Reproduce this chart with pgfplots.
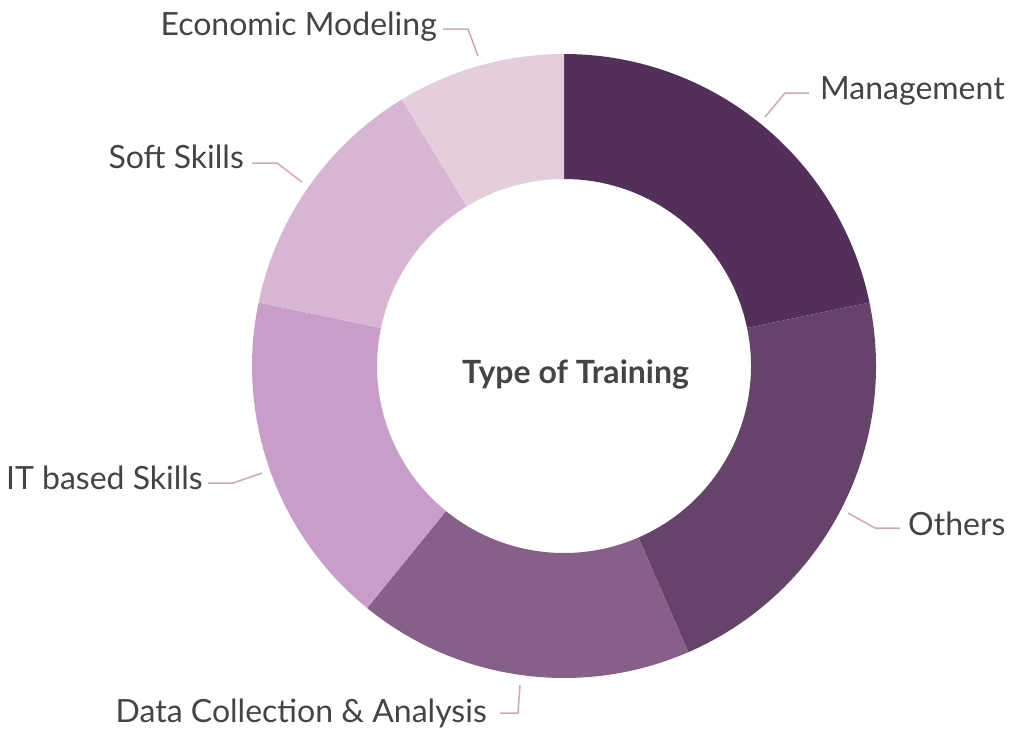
\documentclass[border=0pt]{standalone}
\usepackage{pgfplots}
\pgfplotsset{compat=1.18}
\usepackage{pgfplotstable}
\usepackage{fontspec}
\setmainfont{Lato}

\definecolor{slice0}{HTML}{52305A}
\definecolor{slice1}{HTML}{66436A}
\definecolor{slice2}{HTML}{876089}
\definecolor{slice3}{HTML}{C99DC9}
\definecolor{slice4}{HTML}{D8B6D3}
\definecolor{slice5}{HTML}{E5CEDC}
\definecolor{leader}{HTML}{D4A5B8}
\definecolor{txt}{HTML}{444444}

% order: clockwise from 12 o'clock
\pgfplotstableread[col sep=comma]{
label,value
Management,25
Others,25
DataCollection,20
ITbased,20
SoftSkills,15
EconomicModeling,10
}\trainingdata

\begin{document}
\begin{tikzpicture}
% total and cumulative angles
\xdef\total{0}
\pgfplotstableforeachcolumnelement{value}\of\trainingdata\as\v{%
  \pgfmathparse{\total+\v}\xdef\total{\pgfmathresult}}
\xdef\cum{0}
\pgfplotstableforeachcolumnelement{value}\of\trainingdata\as\v{%
  \expandafter\xdef\csname aS\pgfplotstablerow\endcsname{\cum}%
  \pgfmathparse{\cum+\v*360/\total}\xdef\cum{\pgfmathresult}%
  \expandafter\xdef\csname aE\pgfplotstablerow\endcsname{\cum}}

\def\cx{564}\def\cy{366}\def\Ro{312}\def\Ri{187}

\begin{axis}[
    x=1pt, y=1pt,
    xmin=0, xmax=1011, ymin=0, ymax=728,
    y dir=reverse,
    hide axis,
    clip=false,
]
\pgfplotsinvokeforeach{0,...,5}{
  \fill[slice#1]
    (axis cs:{\cx+\Ro*sin(\csname aS#1\endcsname)},{\cy-\Ro*cos(\csname aS#1\endcsname)})
    arc[start angle={90-\csname aS#1\endcsname}, end angle={90-\csname aE#1\endcsname}, radius=\Ro pt]
    -- (axis cs:{\cx+\Ri*sin(\csname aE#1\endcsname)},{\cy-\Ri*cos(\csname aE#1\endcsname)})
    arc[start angle={90-\csname aE#1\endcsname}, end angle={90-\csname aS#1\endcsname}, radius=\Ri pt]
    -- cycle;
}

% leader lines
\draw[leader, line width=1.5pt] (axis cs:765,117) -- (axis cs:785,93) -- (axis cs:809,93);
\draw[leader, line width=1.5pt] (axis cs:848,513) -- (axis cs:875,528) -- (axis cs:900,528);
\draw[leader, line width=1.5pt] (axis cs:520,685) -- (axis cs:518,713) -- (axis cs:500,713);
\draw[leader, line width=1.5pt] (axis cs:262,473) -- (axis cs:233,483) -- (axis cs:208,483);
\draw[leader, line width=1.5pt] (axis cs:302,182) -- (axis cs:277,163) -- (axis cs:252,163);
\draw[leader, line width=1.5pt] (axis cs:478,56) -- (axis cs:468,29) -- (axis cs:443,29);

% labels
\tikzset{lbl/.style={inner sep=0pt, text=txt, font=\fontsize{32}{38}\selectfont}}
\node[lbl, anchor=base west] at (axis cs:820,99) {Management};
\node[lbl, anchor=base west] at (axis cs:908,535) {Others};
\node[lbl, anchor=base east] at (axis cs:487,722) {Data Collection \& Analysis};
\node[lbl, anchor=base east] at (axis cs:203,489) {IT based Skills};
\node[lbl, anchor=base east] at (axis cs:244,168) {Soft Skills};
\node[lbl, anchor=base east] at (axis cs:437,35) {Economic Modeling};
\node[lbl, anchor=base, font=\fontsize{32}{38}\selectfont\bfseries] at (axis cs:575.5,383) {Type of Training};
\end{axis}
\pgfresetboundingbox
\path (current axis.south west) rectangle (current axis.north east);
\end{tikzpicture}
\end{document}
